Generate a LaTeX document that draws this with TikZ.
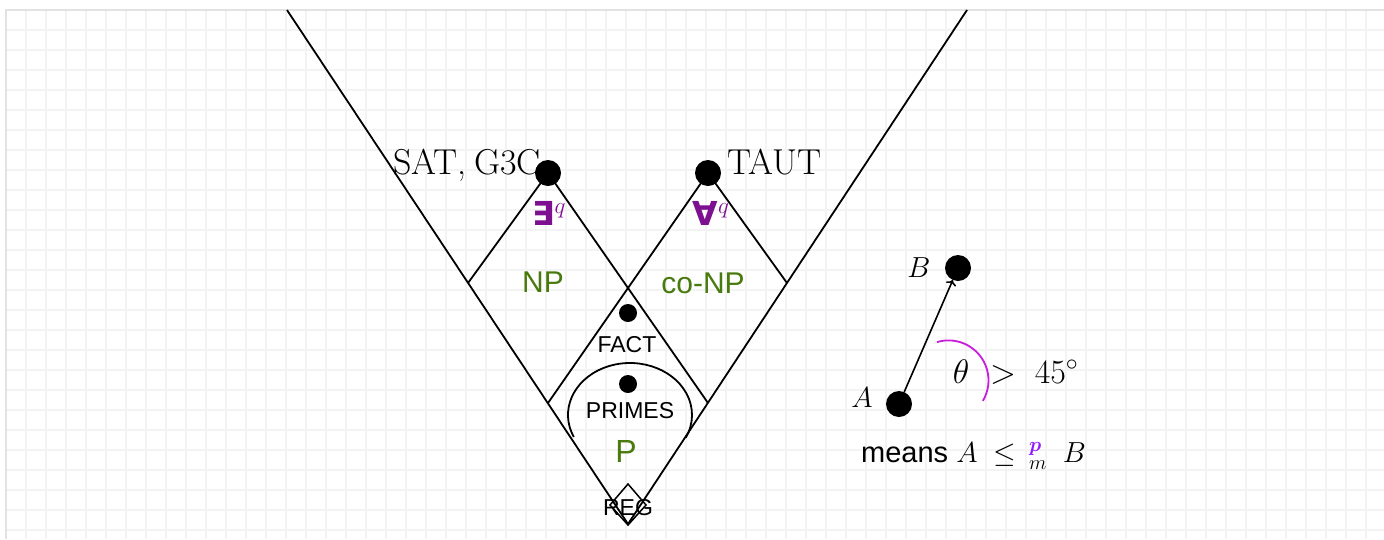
\RequirePackage{fix-cm}
\documentclass[tikz,border=0pt]{standalone}
\usepackage{amsmath}
\usepackage{fontspec}
\usetikzlibrary{arrows.meta}
\setsansfont{Liberation Sans}
\newfontfamily\djvb{DejaVu Sans Bold}
\definecolor{npgreen}{RGB}{72,122,14}
\definecolor{qpurple}{RGB}{125,15,145}
\definecolor{arcmag}{RGB}{200,30,220}
\definecolor{pviolet}{RGB}{145,25,255}
\definecolor{gridc}{RGB}{243,243,243}
\definecolor{borderc}{RGB}{226,226,226}
\begin{document}
\begin{tikzpicture}[x=1pt,y=1pt,
  edge/.style={black,line width=1.8pt},
  bigdot/.style={circle,fill=black,inner sep=0pt,minimum size=26pt},
  smalldot/.style={circle,fill=black,inner sep=0pt,minimum size=18pt},
  classlbl/.style={text=npgreen,font=\sffamily\fontsize{30}{34}\selectfont,inner sep=0pt},
  problbl/.style={font=\sffamily\fontsize{23}{26}\selectfont,inner sep=0pt},
  serlbl/.style={font=\fontsize{36}{40}\selectfont,inner sep=0pt},
  quant/.style={text=qpurple,font=\fontsize{33}{36}\selectfont,inner sep=0pt},
  mathlbl/.style={font=\fontsize{29}{32}\selectfont,inner sep=0pt},
  anglelbl/.style={font=\fontsize{34}{38}\selectfont,inner sep=0pt}]
\useasboundingbox (0,0) rectangle (1384,-539);
\fill[white] (0,0) rectangle (1384,-539);
\begin{scope}[shift={(6,-10)}]
  \draw[gridc,line width=1.5pt,step=20] (0,0) grid (1378,-529);
\end{scope}
\draw[borderc,line width=1.2pt] (6,-539) -- (6,-10) -- (1384,-10);

% key points
\coordinate (VL) at (287,-10);
\coordinate (VR) at (967,-10);
\coordinate (V0) at (628,-524);
\coordinate (L) at (468,-283);
\coordinate (R) at (787,-283);
\coordinate (FL) at (548,-403);
\coordinate (FR) at (708,-403);
\coordinate (s) at (548,-173);
\coordinate (t) at (708,-173);
\coordinate (pc) at (630,-415);
\coordinate (thc) at (948.5,-380.4);

% classes
\draw[edge] (VL) -- (V0) -- (VR);
\draw[edge] (L) -- (s) -- (FR);
\draw[edge] (R) -- (t) -- (FL);
\draw[edge] (pc) ++(205:62 and 52) arc[start angle=205,end angle=-26,x radius=62,y radius=52];
\draw[black,line width=1.5pt] (628,-484) -- (646,-505) -- (628,-525) -- (610,-505) -- cycle;

% dots
\node[bigdot] (S) at (s) {};
\node[bigdot] (T) at (t) {};
\node[smalldot] (F) at (628,-313) {};
\node[smalldot] (Pr) at (628,-384) {};
\node[bigdot] (A) at (899,-404) {};
\node[bigdot] (B) at (958,-268) {};

% labels
\node[serlbl,anchor=base east] (satl) at (541,-174) {SAT,\hspace{0.2em}G3C};
\node[serlbl,anchor=base west] (tautl) at (727,-174) {TAUT};
\node[quant] (ex) at (549,-213) {{\djvb ∃}$^{q}$};
\node[quant] (fa) at (711,-213) {{\djvb ∀}$^{q}$};
\node[classlbl,anchor=base] (np) at (543,-292) {NP};
\node[classlbl,anchor=base] (conp) at (703,-293) {co-NP};
\node[problbl,anchor=base] (fact) at (627,-352) {FACT};
\node[problbl,anchor=base] (primes) at (630,-418) {PRIMES};
\node[classlbl,font=\sffamily\fontsize{32}{36}\selectfont,anchor=base] (p) at (626,-462) {P};
\node[problbl,anchor=base] (reg) at (628,-515) {REG};

% reduction legend
\draw[black,line width=1.6pt,-{To[length=5pt,width=11pt]}] (A) -- (B);
\draw[arcmag,line width=1.8pt] (thc) ++(106.7:40) arc[start angle=106.7,end angle=-30.8,radius=40];
\node[mathlbl,anchor=base] (al) at (862,-407) {$A$};
\node[mathlbl,anchor=base] (bl) at (919,-277) {$B$};
\node[anglelbl,anchor=base] (th) at (961,-383) {$\theta$};
\node[anglelbl,anchor=base west] (gt) at (990,-383) {$>$\hspace{0.55em}$45^{\circ}$};
\node[mathlbl,anchor=base west] (means) at (861,-462)
  {\sffamily means $A\;\leq\,{}^{\textcolor{pviolet}{\boldsymbol{p}}}_{m}\hspace{0.55em}B$};
\end{tikzpicture}
\end{document}
